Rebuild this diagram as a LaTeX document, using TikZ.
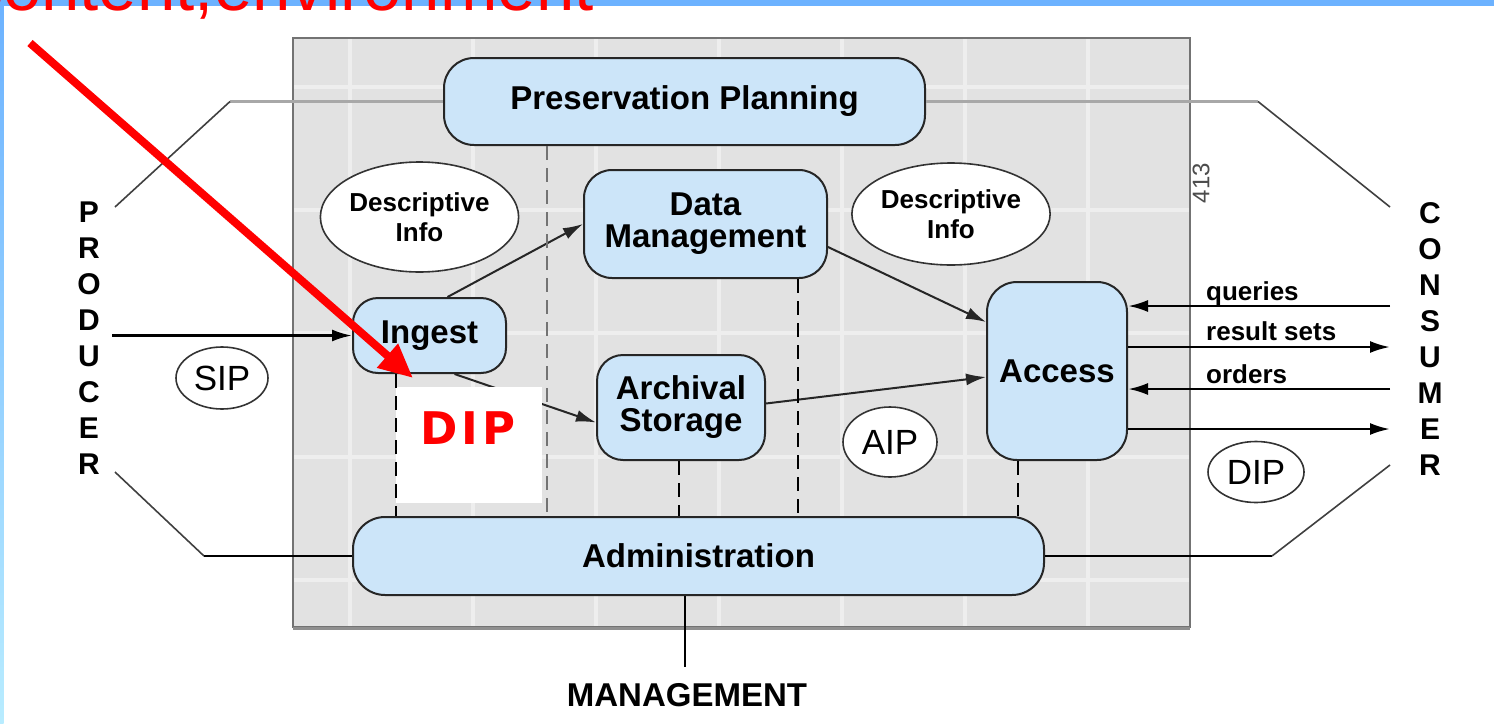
\documentclass[tikz,border=0pt]{standalone}
\usepackage{fontspec}
\setmainfont{Liberation Sans}
\newfontfamily\dejavu{DejaVu Sans}
\usetikzlibrary{shapes.geometric,arrows.meta,calc}
\definecolor{nodeblue}{RGB}{204,229,249}
\definecolor{boxgray}{RGB}{226,226,226}
\definecolor{gridlite}{RGB}{238,238,238}
\definecolor{boxedge}{RGB}{115,115,115}
\definecolor{bandblue}{RGB}{108,178,255}
\definecolor{stripbot}{RGB}{184,236,255}
\definecolor{planline}{RGB}{168,168,168}
\begin{document}
\begin{tikzpicture}[x=1pt,y=-1pt,
  proc/.style={draw=black!85, line width=2pt, fill=nodeblue, inner sep=0pt,
    font=\bfseries\fontsize{33}{32}\selectfont, align=center},
  ell/.style={ellipse, draw=black!80, line width=1.6pt, fill=white, inner sep=0pt},
  desc/.style={ell, font=\bfseries\fontsize{26}{30}\selectfont, align=center},
  pkg/.style={ell, font=\fontsize{35}{35}\selectfont},
  lettr/.style={inner sep=0pt, font=\bfseries\fontsize{30}{30}\selectfont},
  lab/.style={inner sep=0pt, font=\bfseries\fontsize{26}{26}\selectfont},
  arrB/.style={-{Latex[length=20pt,width=12pt]}, line width=2.6pt, black},
  arrT/.style={-{Latex[length=20pt,width=12pt]}, line width=2pt, black!85},
  thinline/.style={line width=1.6pt, black!75},
  blkline/.style={line width=2.6pt, black},
  grayline/.style={line width=3.5pt, planline},
  dashblk/.style={line width=2.5pt, black, dash pattern=on 14pt off 8pt},
  dashgray/.style={line width=2.5pt, black!55, dash pattern=on 14pt off 8pt}]
\useasboundingbox (0,0) rectangle (1494,723);
\fill[white] (0,0) rectangle (1494,723);
% slide frame
\fill[bandblue] (0,0) rectangle (1494,6);
\shade[top color=bandblue,bottom color=stripbot] (0,0) rectangle (3.5,723);
\node[anchor=base east, text=red, inner sep=0pt, font=\fontsize{69}{69}\selectfont] (title) at (594,10) {content,environment};
% grey archive box
\fill[boxgray] (293,38) rectangle (1190,627);
\foreach \gx in {350,473,596,719,842,965,1088}
  \draw[gridlite, line width=3.5pt] (\gx,39) -- (\gx,626);
\foreach \gy in {87,210,333,457,580}
  \draw[gridlite, line width=3.5pt] (294,\gy) -- (1189,\gy);
\draw[boxedge, line width=2.5pt] (293,38) rectangle (1190,627);
\draw[boxedge!80, line width=3pt] (293,628.5) -- (1190,628.5);
\node[rotate=90, inner sep=0pt, text=black!70, font=\fontsize{24}{24}\selectfont] (fignum) at (1201,183) {413};
% functional entities
\node[proc, rounded corners=30pt, minimum width=481pt, minimum height=87pt] (pp) at (684.5,101.5) {Preservation Planning};
\node[proc, rounded corners=28pt, minimum width=243pt, minimum height=108pt] (dm) at (705.5,224) {Data\\Management};
\node[proc, rounded corners=25pt, minimum width=153pt, minimum height=75pt] (ing) at (429.5,335.5) {Ingest};
\node[proc, rounded corners=26pt, minimum width=168pt, minimum height=105pt] (arch) at (681,407.5) {Archival\\Storage};
\node[proc, rounded corners=30pt, minimum width=140pt, minimum height=178pt] (acc) at (1057,371) {Access};
\node[proc, rounded corners=32pt, minimum width=691pt, minimum height=78pt] (adm) at (698.5,556) {Administration};
% ellipses
\node[desc, minimum width=193pt, minimum height=110pt] (di1) at (419.5,217) {Descriptive\\Info};
\node[desc, minimum width=194pt, minimum height=102pt] (di2) at (951,214) {Descriptive\\Info};
\node[pkg, minimum width=92pt, minimum height=62pt] (sip) at (222,378) {SIP};
\node[pkg, minimum width=94pt, minimum height=70pt] (aip) at (890,442) {AIP};
\node[pkg, minimum width=96pt, minimum height=61pt] (dip) at (1256,472) {DIP};
% producer / consumer
\foreach \l [count=\i] in {P,R,O,D,U,C,E,R}
  \node[lettr] (prod\i) at (89,{212+36*(\i-1)}) {\l};
\foreach \l [count=\i] in {C,O,N,S,U,M,E,R}
  \node[lettr] (cons\i) at (1430,{213+36*(\i-1)}) {\l};
% preservation planning interface lines
\coordinate (pl1) at (115,207);
\coordinate (pl2) at (230,101.5);
\coordinate (pr1) at (1258,101.5);
\coordinate (pr2) at (1390,207);
\draw[grayline] (pl2) -- (pp.west);
\draw[grayline] (pp.east) -- (pr1);
\draw[thinline] (pl1) -- (pl2);
\draw[thinline] (pr1) -- (pr2);
% administration interface lines
\coordinate (bl1) at (115,472);
\coordinate (bl2) at (204,556);
\coordinate (br1) at (1272,556);
\coordinate (br2) at (1390,465);
\draw[thinline] (bl1) -- (bl2);
\draw[blkline] (bl2) -- (adm.west);
\draw[blkline] (adm.east) -- (br1);
\draw[thinline] (br1) -- (br2);
% management
\coordinate (mend) at (685,667);
\draw[blkline] (adm.south -| mend) -- (mend);
\node[inner sep=0pt, font=\bfseries\fontsize{33}{33}\selectfont] (mgmt) at (687,695) {MANAGEMENT};
% producer -> ingest
\coordinate (pin) at (112,335.5);
\draw[arrB] (pin) -- (ing.west);
% internal flows
\draw[arrT] ($(ing.north)+(18,0)$) -- (dm.west);
\draw[arrT] ($(ing.south)+(25,0)$) -- ($(arch.west)+(0,15)$);
\draw[arrT] ($(dm.east)+(0,23)$) -- ($(acc.west)+(0,-49)$);
\draw[arrT] ($(arch.east)+(0,-4)$) -- ($(acc.west)+(0,6)$);
% consumer flows
\coordinate (cq) at (1390,306);
\coordinate (cr) at (1390,347);
\coordinate (co) at (1390,389);
\coordinate (cd) at (1390,429);
\draw[arrB] (cq) -- (cq -| acc.east);
\draw[arrB] (cr -| acc.east) -- (cr);
\draw[arrB] (co) -- (co -| acc.east);
\draw[arrB] (cd -| acc.east) -- (cd);
\node[lab, anchor=base west] (lq) at (1206,300) {queries};
\node[lab, anchor=base west] (lr) at (1206,340) {result sets};
\node[lab, anchor=base west] (lo) at (1206,383) {orders};
% dashed administration links
\coordinate (v2) at (547,0);
\coordinate (v3) at (679,0);
\coordinate (v4) at (798,0);
\coordinate (v5) at (1018,0);
\draw[dashgray] (pp.south -| v2) -- (adm.north -| v2);
\draw[dashblk] (arch.south -| v3) -- (adm.north -| v3);
\draw[dashblk] (dm.south -| v4) -- (adm.north -| v4);
\draw[dashblk] (acc.south -| v5) -- (adm.north -| v5);
% white overlay with DIP
\fill[white] (396,387) rectangle (542,503);
\coordinate (v1) at (396,0);
\draw[dashblk] (ing.south -| v1) -- (adm.north -| v1);
\node[inner sep=0pt, text=red, font=\dejavu\bfseries\fontsize{45}{45}\selectfont] (dipred) at (468,428.5) {D\kern4pt I\kern4pt P};
% red pointer arrow
\coordinate (rs) at (30,43);
\coordinate (rt) at (413,378);
\draw[red, line width=8pt, -{Triangle[length=34pt,width=30pt]}] (rs) -- (rt);
\end{tikzpicture}
\end{document}
